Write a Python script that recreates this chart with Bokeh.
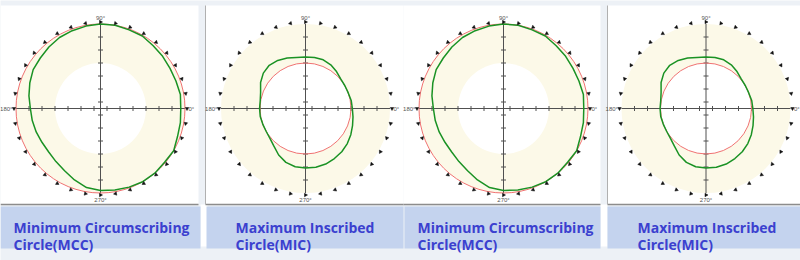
import numpy as np
from bokeh.plotting import figure
from bokeh.core.properties import value
from bokeh.embed import file_html
from bokeh.resources import INLINE

# ---- data ----
angles_deg = [0, 10, 20, 30, 40, 50, 60, 70, 80, 90, 100, 110, 120, 130, 140, 150, 160, 170,
              180, 190, 200, 210, 220, 230, 240, 250, 260, 270, 280, 290, 300, 310, 320, 330, 340, 350]
# measured profile radius / reference-circle radius
mcc_profile = [0.95, 0.96, 0.95, 0.95, 0.96, 0.97, 0.99, 0.99, 1.00, 1.00, 0.99, 0.98, 0.97, 0.95,
               0.93, 0.92, 0.89, 0.86, 0.83, 0.82, 0.81, 0.80, 0.80, 0.82, 0.85, 0.90, 0.95, 0.97,
               0.98, 0.99, 1.00, 1.00, 0.99, 1.00, 0.97, 0.96]
mic_profile = [1.03, 1.02, 1.00, 1.00, 1.01, 1.06, 1.11, 1.14, 1.14, 1.13, 1.14, 1.18, 1.22, 1.24,
               1.21, 1.14, 1.05, 1.01, 1.01, 1.01, 1.00, 1.00, 1.02, 1.08, 1.18, 1.26, 1.30, 1.31,
               1.31, 1.30, 1.27, 1.24, 1.20, 1.15, 1.10, 1.06]
marker_angles = list(range(0, 360, 10))
angle_labels = ["0°", "90°", "180°", "270°"]
titles = [["Minimum Circumscribing", "Circle(MCC)"], ["Maximum Inscribed", "Circle(MIC)"],
          ["Minimum Circumscribing", "Circle(MCC)"], ["Maximum Inscribed", "Circle(MIC)"]]
kinds = ["MCC", "MIC", "MCC", "MIC"]

# ---- layout (pixels, y measured downward) ----
H = 260
def Y(y):
    return H - y

panels = [dict(x0=0, x1=198, cx=100.0, tx=13, bx0=0, bx1=200),
          dict(x0=205, x1=403, cx=305.0, tx=235, bx0=206, bx1=403),
          dict(x0=403, x1=600, cx=503.0, tx=417, bx0=404, bx1=600),
          dict(x0=607, x1=800, cx=705.5, tx=637, bx0=607, bx1=800)]
CY = 108.0
R_OUT = 84.5
R_IN = 45.5

p = figure(width=800, height=260, x_range=(0, 800), y_range=(0, 260),
           output_backend="svg", toolbar_location=None, min_border=0)
p.axis.visible = False
p.grid.visible = False
p.outline_line_color = None
p.background_fill_color = "#edf1f6"
p.border_fill_color = "#edf1f6"

# white panels and label boxes
p.quad(left=[q["x0"] for q in panels], right=[q["x1"] for q in panels],
       top=[Y(5)] * 4, bottom=[Y(204)] * 4, fill_color="white", line_color=None)
p.quad(left=[200, 600], right=[207, 607], top=[Y(204)] * 2, bottom=[Y(246)] * 2,
       fill_color="white", line_color=None)
p.quad(left=[q["bx0"] for q in panels], right=[q["bx1"] for q in panels],
       top=[Y(206)] * 4, bottom=[Y(248)] * 4, fill_color="#c4d3ee", line_color=None)
# panel borders
p.segment(x0=[q["x0"] for q in panels], y0=[Y(204)] * 4, x1=[q["x1"] for q in panels], y1=[Y(204)] * 4,
          line_color="#8c8c8c", line_width=1.5)
p.segment(x0=[205, 607], y0=[Y(5)] * 2, x1=[205, 607], y1=[Y(204)] * 2, line_color="#b0b0b0", line_width=1)

th = np.radians(np.array(angles_deg + [angles_deg[0]], dtype=float))
ma = np.radians(np.array(marker_angles, dtype=float))

for q, kind, tt in zip(panels, kinds, titles):
    cx, cy = q["cx"], Y(CY)
    # cream annulus
    p.ellipse(x=[cx], y=[cy], width=[2 * R_OUT], height=[2 * R_OUT], fill_color="#fcf9e8", line_color=None)
    p.ellipse(x=[cx], y=[cy], width=[2 * R_IN], height=[2 * R_IN], fill_color="white", line_color=None)
    # axes
    p.segment(x0=[cx - R_OUT, cx], y0=[cy, cy - R_OUT], x1=[cx + R_OUT, cx], y1=[cy, cy + R_OUT],
              line_color="#505050", line_width=1)
    offs = [s * (k + 0.5) * 13 for k in range(6) for s in (-1, 1)]
    p.segment(x0=[cx + o for o in offs], y0=[cy - 2.5] * 12, x1=[cx + o for o in offs], y1=[cy + 2.5] * 12,
              line_color="#505050", line_width=1)
    p.segment(x0=[cx - 2.5] * 12, y0=[cy + o for o in offs], x1=[cx + 2.5] * 12, y1=[cy + o for o in offs],
              line_color="#505050", line_width=1)
    # reference circle and profile
    if kind == "MCC":
        ref_r = R_OUT
        prof = mcc_profile
    else:
        ref_r = R_IN
        prof = mic_profile
    p.ellipse(x=[cx], y=[cy], width=[2 * ref_r], height=[2 * ref_r], fill_color=None,
              line_color="#f07272", line_width=1)
    rr = np.array(prof + [prof[0]]) * ref_r
    p.line(cx + rr * np.cos(th), cy + rr * np.sin(th), line_color="#1a9224", line_width=1.5)
    # markers around
    rot = np.where(np.cos(ma) >= 0, ma - np.pi, ma)  # point downward along the circle
    p.scatter(cx + 86.5 * np.cos(ma), cy + 86.5 * np.sin(ma), marker="triangle", size=3.5,
              angle=rot, fill_color="#111111", line_color="#111111", line_width=0.5)
    # angle labels
    lab_x = [cx + 88, cx, cx - 88, cx]
    lab_y = [cy, cy + 88, cy, cy - 88]
    aligns = ["left", "center", "right", "center"]
    bases = ["middle", "bottom", "middle", "top"]
    for s, lx, ly, al, bs in zip(angle_labels, lab_x, lab_y, aligns, bases):
        p.text(x=[lx], y=[ly], text=[s], text_font=value("Liberation Sans"), text_font_size="6px",
               text_color="#555555", text_align=al, text_baseline=bs)
    # titles
    p.text(x=[q["tx"]] * 2, y=[Y(227), Y(244)], text=tt, text_font=value("Open Sans"),
           text_font_style="bold", text_font_size="14px", text_color="#3b40cf",
           text_baseline="alphabetic", text_align="left")

open("out.html", "w").write(file_html(p, INLINE))
